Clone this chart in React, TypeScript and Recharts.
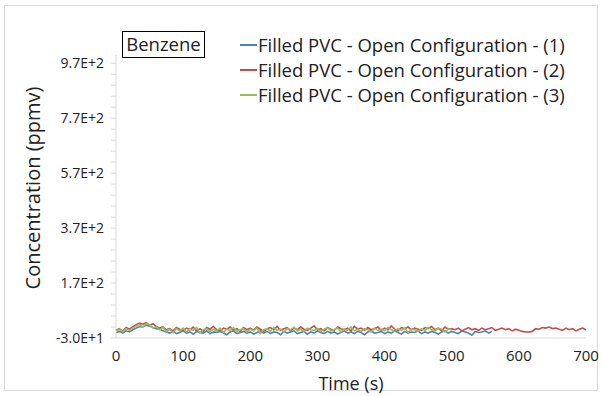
import React from 'react';
import { LineChart, Line, XAxis, YAxis } from 'recharts';

const STEP_S = 5;

const series1 = [
  -10, -6, -12, -4, -8, 0, 6, 12, 10, 16,
  14, 8, 4, 2, -4, -8, -12, -6, -14, -10,
  -4, -12, -8, -16, -6, -10, -12, -4, -14, -8,
  -10, -6, -12, -18, -8, -4, -14, -10, -6, -12,
  -8, -16, -10, -4, -12, -6, -14, -8, -10, -18,
  -6, -12, -8, -4, -14, -10, -6, -16, -8, -12,
  -4, -10, -14, -6, -12, -8, -16, -10, -4, -12,
  -8, -14, -6, -10, -18, -8, -4, -12, -10, -6,
  -14, -8, -12, -4, -10, -16, -6, -12, -8, -10,
  -4, -14, -8, -12, -6, -10, -16, -8, -4, -12,
  -6, -10, -14, -4, -8, -12, -20, -6, -10, -8,
  -4, -12, -6,
];

const series2 = [
  -2, 4, -6, 8, 2, 10, 18, 24, 20, 26,
  16, 22, 12, 6, 10, 0, 4, -4, 8, 2,
  -2, 6, 0, 10, -4, 4, -6, 8, 2, 12,
  0, -4, 6, 2, 10, -2, 4, -6, 8, 0,
  6, -2, 10, 2, -6, 4, 8, 0, 12, -2,
  4, 8, -4, 6, 0, 10, 2, -2, 6, 14,
  0, 4, -4, 8, 2, -2, 10, 4, 0, 6,
  -4, 12, 2, 6, -2, 8, 0, 4, 10, -2,
  6, 0, 14, 2, -4, 8, 4, 10, 0, 6,
  2, -2, 8, 4, 12, 0, 6, -4, 10, 2,
  4, 0, 6, -4, 2, 8, 0, 4, -2, 6,
  0, 4, 8, -2, 2, 6, 0, 4, -4, 2,
  -2, -6, -8, -8, -6, 4, 2, 8, 6, 10,
  4, 6, 2, -2, 6, 0, 4, -4, 2, 6,
  0,
];

const series3 = [
  -6, 2, -8, 4, -2, 6, 14, 20, 10, 22,
  18, 6, 12, 0, 8, -6, 2, -10, 4, -4,
  6, -8, 2, -2, 8, -12, 0, 4, -6, 2,
  -4, 6, -10, 2, -2, 8, -6, 0, 4, -8,
  2, -4, 6, -14, 0, 4, -6, 8, -2, 2,
  -8, 4, 0, 10, -4, 2, -6, 6, 0, -2,
  4, -6, 2, 8, -4, 0, 6, -8, 2, -2,
  10, -4, 2, -6, 4, 0, -8, 6, -2, 2,
  -4, 8, 0, -6, 4, -2, 6, -10, 2, 0,
  -6, 4, -2, 8, 0, -4, 6, 2, -8, 4,
  0,
];

const seriesNames = [
  'Filled PVC - Open Configuration - (1)',
  'Filled PVC - Open Configuration - (2)',
  'Filled PVC - Open Configuration - (3)',
];
const seriesColors = ['#4F81BD', '#C0504D', '#9BBB59'];

const xTicks = [0, 100, 200, 300, 400, 500, 600, 700];
const yMajorTicks = [-30, 170, 370, 570, 770, 970];
const yMinorTicks = [-30, 10, 50, 90, 130, 170, 210, 250, 290, 330, 370, 410, 450, 490, 530, 570, 610, 650, 690, 730, 770, 810, 850, 890, 930, 970];

const toPoints = (vals: number[]) => vals.map((v, i) => ({ t: i * STEP_S, v }));

const FONT = '"Open Sans", sans-serif';
const TEXT = '#222';

const fmtY = (v: number) =>
  yMajorTicks.includes(v) ? v.toExponential(1).replace('e', 'E') : '';

export default function App() {
  const datasets = [series1, series2, series3].map(toPoints);
  return (
    <div style={{ position: 'absolute', left: 0, top: 0, width: 603, height: 396, background: '#fff' }}>
      <div style={{ position: 'absolute', left: 4, top: 5, width: 594, height: 386, border: '1px solid #d9d9d9', boxSizing: 'border-box' }} />
      <LineChart width={603} height={396} margin={{ top: 55, right: 17, left: 16, bottom: 0 }}>
        <XAxis
          dataKey="t"
          type="number"
          domain={[0, 700]}
          ticks={xTicks}
          allowDuplicatedCategory={false}
          height={58}
          stroke="#d9d9d9"
          tickLine={false}
          tickMargin={6}
          tick={{ fill: TEXT, fontSize: 15, fontFamily: FONT }}
          label={{ value: 'Time (s)', position: 'insideBottom', offset: 6, fill: TEXT, fontSize: 18, fontFamily: FONT }}
        />
        <YAxis
          dataKey="v"
          type="number"
          domain={[-30, 1000]}
          ticks={yMinorTicks}
          interval={0}
          tickFormatter={fmtY}
          width={100}
          stroke="#d9d9d9"
          tickSize={5}
          tickMargin={7}
          tick={{ fill: TEXT, fontSize: 14, fontFamily: FONT }}
        />
        {datasets.map((d, i) => (
          <Line
            key={seriesNames[i]}
            data={d}
            dataKey="v"
            name={seriesNames[i]}
            stroke={seriesColors[i]}
            strokeWidth={1.6}
            dot={false}
            isAnimationActive={false}
          />
        ))}
      </LineChart>
      <svg style={{ position: 'absolute', left: 0, top: 0, pointerEvents: 'none' }} width={603} height={396}>
        <text
          x={0}
          y={0}
          transform="translate(40,188) rotate(-90)"
          textAnchor="middle"
          fill={TEXT}
          fontSize={20}
          fontFamily={FONT}
        >
          Concentration (ppmv)
        </text>
      </svg>
      <div style={{ position: 'absolute', left: 240, top: 32, fontFamily: FONT, fontSize: 18.5, color: TEXT }}>
        {seriesNames.map((n, i) => (
          <div key={n} style={{ display: 'flex', alignItems: 'center', height: 25, lineHeight: '25px', whiteSpace: 'nowrap' }}>
            <span style={{ display: 'inline-block', width: 17, height: 2, background: seriesColors[i], marginRight: 1 }} />
            <span>{n}</span>
          </div>
        ))}
      </div>
      <div style={{ position: 'absolute', left: 122, top: 31, width: 83, height: 27, border: '1.5px solid #000', boxSizing: 'border-box', fontFamily: FONT, fontSize: 18.5, color: TEXT, lineHeight: '24px', textAlign: 'center' }}>
        Benzene
      </div>
    </div>
  );
}
